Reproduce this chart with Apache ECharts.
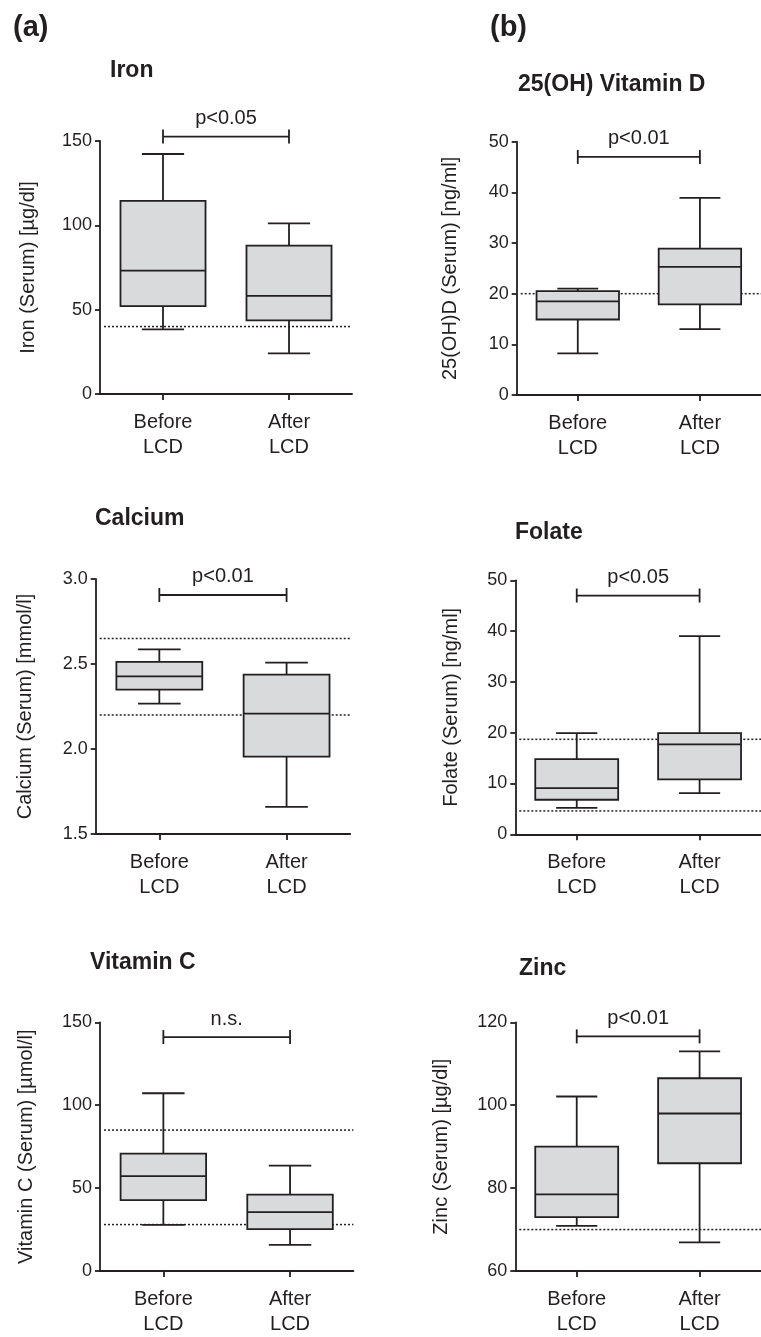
<!DOCTYPE html>
<html>
<head>
<meta charset="utf-8">
<script src="https://cdn.jsdelivr.net/npm/echarts@6/dist/echarts.min.js"></script>
<style>
html,body{margin:0;padding:0;background:#fff;}
#c{width:761px;height:1337px;}
</style>
</head>
<body>
<div id="c"></div>
<script>
// ---------- data ----------
const categories = ['Before\nLCD', 'After\nLCD'];
const panelTitles = ['Iron', '25(OH) Vitamin D', 'Calcium', 'Folate', 'Vitamin C', 'Zinc'];
const panelLetters = ['(a)', '(b)'];
const yNames = ['Iron (Serum) [µg/dl]', '25(OH)D (Serum) [ng/ml]', 'Calcium (Serum) [mmol/l]',
                'Folate (Serum) [ng/ml]', 'Vitamin C (Serum) [µmol/l]', 'Zinc (Serum) [µg/dl]'];
const yMin = [0, 0, 1.5, 0, 0, 60];
const yMax = [150, 50, 3.0, 50, 150, 120];
const yInterval = [50, 10, 0.5, 10, 50, 20];
const yDecimals = [0, 0, 1, 0, 0, 0];

// box values per category: [low whisker, Q1, median, Q3, high whisker]
const ironBox = [[38.3, 52.1, 73.2, 114.5, 142.3], [24.1, 43.6, 58.2, 88.0, 101.2]];
const vitdBox = [[8.2, 14.9, 18.5, 20.5, 21.0], [13.0, 17.9, 25.3, 28.9, 38.9]];
const calciumBox = [[2.267, 2.349, 2.427, 2.512, 2.586], [1.659, 1.955, 2.208, 2.437, 2.508]];
const folateBox = [[5.2, 6.8, 9.1, 14.8, 19.9], [8.1, 10.8, 17.7, 19.9, 39.0]];
const vitcBox = [[27.8, 42.8, 57.2, 70.8, 107.2], [15.8, 25.2, 35.5, 46.1, 63.5]];
const zincBox = [[70.9, 73.0, 78.5, 90.0, 102.1], [66.9, 86.0, 98.0, 106.5, 113.0]];

// reference (dotted) lines
const ironRef = [40];
const vitdRef = [20];
const calciumRef = [2.65, 2.2];
const folateRef = [18.7, 4.6];
const vitcRef = [85, 28];
const zincRef = [70];

// significance brackets
const bracketY = [152.6, 47.0, 2.906, 47.0, 141.1, 116.6];
const bracketLabels = ['p<0.05', 'p<0.01', 'p<0.01', 'p<0.05', 'n.s.', 'p<0.01'];

// ---------- layout ----------
const boxes = [ironBox, vitdBox, calciumBox, folateBox, vitcBox, zincBox];
const refs = [ironRef, vitdRef, calciumRef, folateRef, vitcRef, zincRef];
const grids = [
  {left: 100, top: 141, width: 252, height: 253},
  {left: 516.7, top: 141.7, width: 251, height: 253.3},
  {left: 95.7, top: 579, width: 254.5, height: 255},
  {left: 515.3, top: 580.3, width: 253.4, height: 254},
  {left: 100, top: 1022.3, width: 253.4, height: 253.7},
  {left: 515.3, top: 1022.3, width: 254, height: 253.4}
];
const nameGaps = [62, 56, 60, 54, 64, 64];
const titlePos = [[110, 71], [518, 85], [95, 519], [515, 533], [90, 963], [519, 969]];
const letterPos = [[13, 29], [490, 29]];

const INK = '#231f20';
const FILL = '#d9dadb';
const FONT = 'Liberation Sans, Arial, sans-serif';
const LW = 1.8;

const chart = echarts.init(document.getElementById('c'), null, {renderer: 'canvas'});

function renderBox(params, api) {
  const idx = api.value(0);
  const lo = api.coord([idx, api.value(1)]);
  const q1 = api.coord([idx, api.value(2)]);
  const med = api.coord([idx, api.value(3)]);
  const q3 = api.coord([idx, api.value(4)]);
  const hi = api.coord([idx, api.value(5)]);
  const band = api.size([1, 0])[0];
  const bw = band * 0.675, cw = band * 0.335;
  const x = med[0];
  const ls = {stroke: INK, lineWidth: LW, fill: null};
  return {
    type: 'group',
    children: [
      {type: 'line', shape: {x1: x, y1: q3[1], x2: x, y2: hi[1]}, style: ls},
      {type: 'line', shape: {x1: x - cw / 2, y1: hi[1], x2: x + cw / 2, y2: hi[1]}, style: ls},
      {type: 'line', shape: {x1: x, y1: q1[1], x2: x, y2: lo[1]}, style: ls},
      {type: 'line', shape: {x1: x - cw / 2, y1: lo[1], x2: x + cw / 2, y2: lo[1]}, style: ls},
      {type: 'rect', shape: {x: x - bw / 2, y: q3[1], width: bw, height: q1[1] - q3[1]},
       style: {fill: FILL, stroke: INK, lineWidth: LW}},
      {type: 'line', shape: {x1: x - bw / 2, y1: med[1], x2: x + bw / 2, y2: med[1]}, style: ls}
    ]
  };
}

function renderRef(params, api) {
  const cs = params.coordSys;
  const y = api.coord([0, api.value(0)])[1];
  return {
    type: 'line',
    shape: {x1: cs.x + 4, y1: y, x2: cs.x + cs.width, y2: y},
    style: {stroke: INK, lineWidth: 1.5, lineDash: [2, 2], fill: null}
  };
}

function makeBracketRenderer(label) {
  return function (params, api) {
    const p1 = api.coord([0, api.value(0)]);
    const p2 = api.coord([1, api.value(0)]);
    const ls = {stroke: INK, lineWidth: LW, fill: null};
    return {
      type: 'group',
      children: [
        {type: 'line', shape: {x1: p1[0], y1: p1[1], x2: p2[0], y2: p2[1]}, style: ls},
        {type: 'line', shape: {x1: p1[0], y1: p1[1] - 7, x2: p1[0], y2: p1[1] + 7}, style: ls},
        {type: 'line', shape: {x1: p2[0], y1: p2[1] - 7, x2: p2[0], y2: p2[1] + 7}, style: ls},
        {type: 'text', style: {text: label, x: (p1[0] + p2[0]) / 2, y: p1[1] - 18,
          align: 'center', verticalAlign: 'middle', font: '20px ' + FONT, fill: INK}}
      ]
    };
  };
}

const xAxes = [], yAxes = [], series = [];
for (let i = 0; i < 6; i++) {
  xAxes.push({
    type: 'category', gridIndex: i, data: categories, boundaryGap: true,
    axisLine: {show: true, lineStyle: {color: INK, width: LW}},
    axisTick: {show: true, alignWithLabel: true, length: 6, lineStyle: {color: INK, width: LW}},
    axisLabel: {color: INK, fontSize: 20, lineHeight: 25, fontFamily: FONT, margin: 16},
    splitLine: {show: false}
  });
  const dec = yDecimals[i];
  yAxes.push({
    type: 'value', gridIndex: i, min: yMin[i], max: yMax[i], interval: yInterval[i],
    name: yNames[i], nameLocation: 'middle', nameGap: nameGaps[i],
    nameTextStyle: {color: INK, fontSize: 20, fontFamily: FONT},
    axisLine: {show: true, lineStyle: {color: INK, width: LW}},
    axisTick: {show: true, length: 5, lineStyle: {color: INK, width: LW}},
    axisLabel: {color: INK, fontSize: 18, fontFamily: FONT, margin: 8,
      formatter: v => Number(v).toFixed(dec)},
    splitLine: {show: false}
  });
  series.push({
    type: 'custom', xAxisIndex: i, yAxisIndex: i, clip: false, silent: true,
    data: refs[i].map(v => [v]), encode: {y: 0}, renderItem: renderRef, z: 1
  });
  series.push({
    type: 'custom', xAxisIndex: i, yAxisIndex: i, clip: false, silent: true,
    data: boxes[i].map((v, k) => [k].concat(v)), encode: {x: 0, y: [1, 2, 3, 4, 5]},
    renderItem: renderBox, z: 2
  });
  series.push({
    type: 'custom', xAxisIndex: i, yAxisIndex: i, clip: false, silent: true,
    data: [[bracketY[i]]], encode: {y: 0}, renderItem: makeBracketRenderer(bracketLabels[i]), z: 3
  });
}

const graphics = [];
panelTitles.forEach((t, i) => {
  graphics.push({type: 'text', left: titlePos[i][0], top: titlePos[i][1] - 12,
    style: {text: t, font: 'bold 23px ' + FONT, fill: INK}});
});
panelLetters.forEach((t, i) => {
  graphics.push({type: 'text', left: letterPos[i][0], top: letterPos[i][1] - 16,
    style: {text: t, font: 'bold 29px ' + FONT, fill: INK}});
});

chart.setOption({
  backgroundColor: '#ffffff',
  animation: false,
  grid: grids,
  xAxis: xAxes,
  yAxis: yAxes,
  series: series,
  graphic: graphics
});
</script>
</body>
</html>
